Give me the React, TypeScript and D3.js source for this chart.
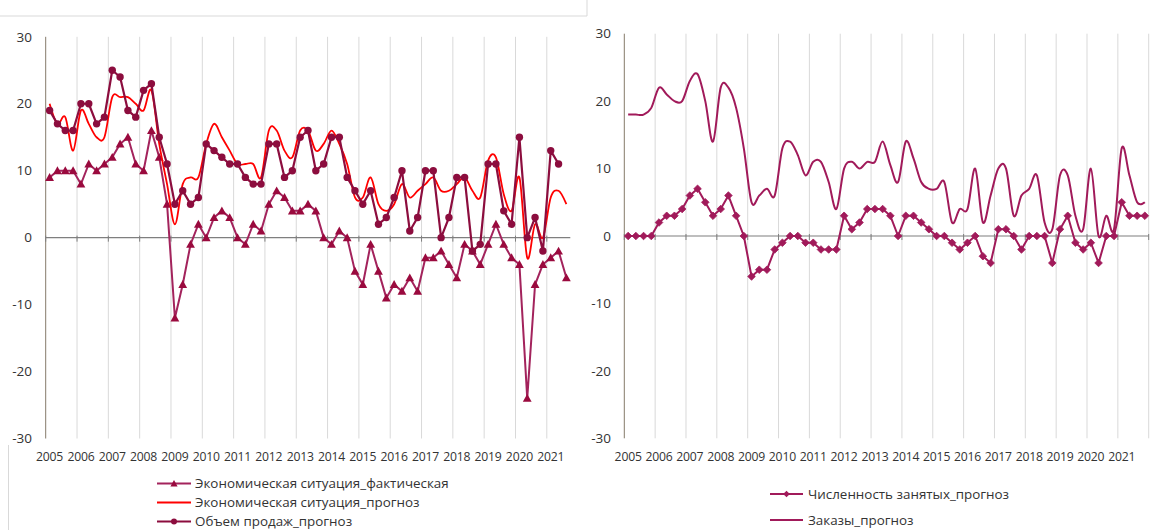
import React from "react";
import * as d3 from "d3";

const years = [2005, 2006, 2007, 2008, 2009, 2010, 2011, 2012, 2013, 2014, 2015, 2016, 2017, 2018, 2019, 2020, 2021];
const yTicks = [-30, -20, -10, 0, 10, 20, 30];

// left chart, 2005Q1..2021Q3
const econActual = [9, 10, 10, 10, 8, 11, 10, 11, 12, 14, 15, 11, 10, 16, 12, 5, -12, -7, -1, 2, 0, 3, 4, 3, 0, -1, 2, 1, 5, 7, 6, 4, 4, 5, 4, 0, -1, 1, 0, -5, -7, -1, -5, -9, -7, -8, -6, -8, -3, -3, -2, -4, -6, -1, -2, -4, -1, 2, -1, -3, -4, -24, -7, -4, -3, -2, -6];
const econForecast = [20, 17, 18, 13, 19, 17, 15, 15, 21, 21, 21, 20, 19, 22, 14, 8, 2, 8, 9, 9, 14, 17, 15, 13, 11, 11, 11, 9, 16, 16, 13, 12, 16, 16, 13, 14, 16, 14, 11, 6, 6, 9, 5, 4, 5, 8, 6, 7, 8, 9, 7, 7, 8, 9, 7, 6, 11.5, 12, 6.5, 4, 9, -3, 2, 0, 6, 7, 5];
const salesForecast = [19, 17, 16, 16, 20, 20, 17, 18, 25, 24, 19, 18, 22, 23, 15, 11, 5, 7, 5, 6, 14, 13, 12, 11, 11, 9, 8, 8, 14, 14, 9, 10, 15, 16, 10, 11, 15, 15, 9, 7, 5, 7, 2, 3, 6, 10, 1, 3, 10, 10, 0, 3, 9, 9, -2, -1, 11, 11, 4, 2, 15, 0, 3, -2, 13, 11, null];

// right chart, 2005Q1..2021Q4
const employment = [0, 0, 0, 0, 2, 3, 3, 4, 6, 7, 5, 3, 4, 6, 3, 0, -6, -5, -5, -2, -1, 0, 0, -1, -1, -2, -2, -2, 3, 1, 2, 4, 4, 4, 3, 0, 3, 3, 2, 1, 0, 0, -1, -2, -1, 0, -3, -4, 1, 1, 0, -2, 0, 0, 0, -4, 1, 3, -1, -2, -1, -4, 0, 0, 5, 3, 3, 3];
const orders = [18, 18, 18, 19, 22, 21, 20, 20, 23, 24, 20, 14, 22, 22, 19, 13, 5, 6, 7, 6, 13, 14, 12, 9, 11, 11, 8, 4, 10, 11, 10, 11, 11, 14, 10.5, 8, 14, 11.5, 8, 7, 7, 8, 2, 4, 4, 10, 2, 6, 10, 10, 3, 6, 7, 9, 2, 1, 9, 9, 3, 1, 10, 0, 3, 1, 13, 9, 5, 5];

const allQuarters = years.flatMap(y => [1, 2, 3, 4].map(q => `${y}Q${q}`));
const leftQuarters = allQuarters.slice(0, econActual.length);
const rightQuarters = allQuarters.slice(0, employment.length);

const FONT = "'Open Sans', 'Liberation Sans', sans-serif";
const TXT = "#333333";
const GRID = "#D9D9D9";

const C_ACT_LINE = "#A3235C";
const C_ACT_MARK = "#9A0A3E";
const C_SALES = "#8C0D3E";
const C_RED = "#FF0000";
const C_RIGHT = "#A11A5A";

type Pt = [number, number];

const tri = (x: number, y: number, s = 4.4) => `M${x},${y - s}L${x + s},${y + s * 0.8}L${x - s},${y + s * 0.8}Z`;
const diamond = (x: number, y: number, s = 3.8) => `M${x},${y - s}L${x + s},${y}L${x},${y + s}L${x - s},${y}Z`;

function Frame({ x, y, yLabelX, count }: { x: d3.ScaleBand<string>; y: d3.ScaleLinear<number, number>; yLabelX: number; count: number }) {
  const [x0, x1] = x.range();
  const bw = x.bandwidth();
  const yearStarts = d3.range(0, count + 1, 4);
  return (
    <g>
      {yearStarts.map(i => (
        i > 0 && i <= count ? (
          <line key={"g" + i} x1={x0 + i * bw} x2={x0 + i * bw} y1={y(30)} y2={y(-30)} stroke={GRID} strokeWidth={1} />
        ) : null
      ))}
      <line x1={x0} x2={x0} y1={y(30)} y2={y(-30)} stroke="#857B6A" strokeWidth={1} />
      <line x1={x0} x2={x1} y1={y(0)} y2={y(0)} stroke="#7F7F7F" strokeWidth={1.2} />
      {yearStarts.map(i => (
        i <= count ? <line key={"t" + i} x1={x0 + i * bw} x2={x0 + i * bw} y1={y(0) - 2} y2={y(0) + 4} stroke="#7F7F7F" strokeWidth={1} /> : null
      ))}
      {yTicks.map(t => (
        <text key={t} x={yLabelX} y={y(t)} dy="0.35em" textAnchor="end" fontFamily={FONT} fontSize={13.5} fill={TXT}>{t}</text>
      ))}
      {years.map(yr => (
        <text key={yr} x={(x(`${yr}Q1`) ?? 0) + bw / 2} y={457} dy="0.35em" textAnchor="middle" fontFamily={FONT} fontSize={12.2} fill={TXT} letterSpacing={-0.2}>{yr}</text>
      ))}
    </g>
  );
}

export default function App() {
  const xL = d3.scaleBand<string>().domain(leftQuarters).range([45.7, 570.3]).paddingInner(0).paddingOuter(0);
  const yL = d3.scaleLinear().domain([-30, 30]).range([438.5, 36.8]);
  const xR = d3.scaleBand<string>().domain(rightQuarters).range([624.3, 1148.7]).paddingInner(0).paddingOuter(0);
  const yR = d3.scaleLinear().domain([-30, 30]).range([438.3, 33.7]);

  const cxL = (i: number) => (xL(leftQuarters[i]) ?? 0) + xL.bandwidth() / 2;
  const cxR = (i: number) => (xR(rightQuarters[i]) ?? 0) + xR.bandwidth() / 2;

  const straight = d3.line<Pt>().x(d => d[0]).y(d => d[1]);
  const smooth = d3.line<Pt>().x(d => d[0]).y(d => d[1]).curve(d3.curveCardinal.tension(0));

  const actPts: Pt[] = econActual.map((v, i) => [cxL(i), yL(v)]);
  const fcPts: Pt[] = econForecast.map((v, i) => [cxL(i), yL(v)]);
  const salesPts = salesForecast.map((v, i) => (v == null ? null : ([cxL(i), yL(v)] as Pt))).filter(Boolean) as Pt[];
  const empPts: Pt[] = employment.map((v, i) => [cxR(i), yR(v)]);
  const ordPts: Pt[] = orders.map((v, i) => [cxR(i), yR(v)]);

  return (
    <svg width={1155} height={530} style={{ position: "absolute", left: 0, top: 0, background: "#fff" }}>
      {/* page borders around the left chart */}
      <line x1={0} x2={587} y1={16} y2={16} stroke={GRID} />
      <line x1={587} x2={587} y1={0} y2={16} stroke={GRID} />
      <line x1={8.5} x2={8.5} y1={445} y2={530} stroke={GRID} />

      <Frame x={xL} y={yL} yLabelX={32} count={leftQuarters.length} />
      <Frame x={xR} y={yR} yLabelX={611} count={rightQuarters.length} />

      {/* left chart series */}
      <path d={straight(actPts) ?? ""} fill="none" stroke={C_ACT_LINE} strokeWidth={2} strokeLinejoin="round" />
      {actPts.map((p, i) => <path key={"a" + i} d={tri(p[0], p[1])} fill={C_ACT_MARK} />)}
      <path d={smooth(fcPts) ?? ""} fill="none" stroke={C_RED} strokeWidth={1.8} />
      <path d={straight(salesPts) ?? ""} fill="none" stroke={C_SALES} strokeWidth={2.2} strokeLinejoin="round" />
      {salesPts.map((p, i) => <circle key={"s" + i} cx={p[0]} cy={p[1]} r={3.7} fill={C_SALES} />)}

      {/* right chart series */}
      <path d={smooth(ordPts) ?? ""} fill="none" stroke={C_RIGHT} strokeWidth={2} />
      <path d={straight(empPts) ?? ""} fill="none" stroke={C_RIGHT} strokeWidth={2} strokeLinejoin="round" />
      {empPts.map((p, i) => <path key={"e" + i} d={diamond(p[0], p[1])} fill={C_RIGHT} stroke={C_RIGHT} strokeWidth={0.8} strokeLinejoin="round" />)}

      {/* left legend */}
      <g fontFamily={FONT} fontSize={13.4} fill={TXT}>
        <line x1={157} x2={191} y1={483.5} y2={483.5} stroke={C_ACT_LINE} strokeWidth={2} />
        <path d={tri(174, 483.5, 3.6)} fill={C_ACT_MARK} />
        <text x={195} y={483.5} dy="0.35em">Экономическая ситуация_фактическая</text>
        <line x1={157} x2={191} y1={502.5} y2={502.5} stroke={C_RED} strokeWidth={1.8} />
        <text x={195} y={502.5} dy="0.35em">Экономическая ситуация_прогноз</text>
        <line x1={157} x2={191} y1={521.5} y2={521.5} stroke={C_SALES} strokeWidth={2} />
        <circle cx={174} cy={521.5} r={3} fill={C_SALES} />
        <text x={195} y={521.5} dy="0.35em">Объем продаж_прогноз</text>
      </g>

      {/* right legend */}
      <g fontFamily={FONT} fontSize={13.4} fill={TXT}>
        <line x1={770} x2={803} y1={494} y2={494} stroke={C_RIGHT} strokeWidth={2} />
        <path d={diamond(786.5, 494, 3.3)} fill={C_RIGHT} />
        <text x={808} y={494} dy="0.35em">Численность занятых_прогноз</text>
        <line x1={770} x2={803} y1={520} y2={520} stroke={C_RIGHT} strokeWidth={2} />
        <text x={808} y={520} dy="0.35em">Заказы_прогноз</text>
      </g>
    </svg>
  );
}
